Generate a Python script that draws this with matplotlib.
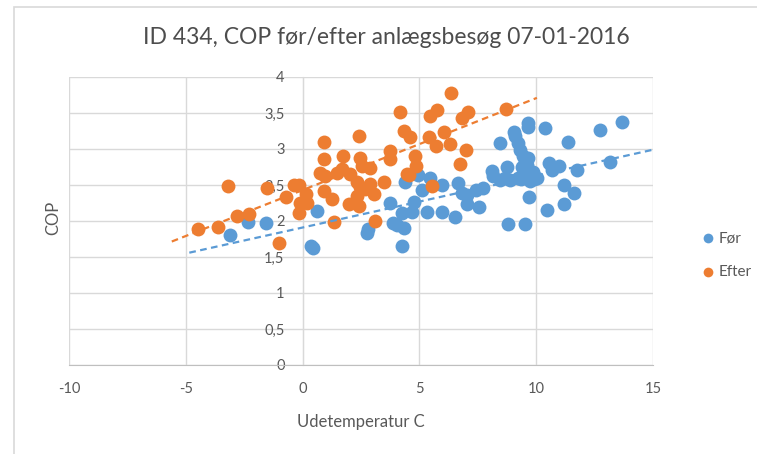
import numpy as np
import matplotlib
matplotlib.use("Agg")
import matplotlib.pyplot as plt
from matplotlib.patches import Rectangle
from matplotlib.ticker import FuncFormatter

plt.rcParams["font.family"] = ["Lato", "DejaVu Sans"]
plt.rcParams["axes.unicode_minus"] = False

TITLE = "ID 434, COP før/efter anlægsbesøg 07-01-2016"
X_LABEL = "Udetemperatur C"
Y_LABEL = "COP"

# Før (blue) - udetemperatur / COP
foer_x = [-3.10, -2.33, -1.58, 0.34, 0.45, 0.60, 2.76, 2.82, 3.75, 3.89, 4.03, 4.32,
          4.25, 4.25, 4.39, 4.68, 4.75, 4.96, 5.10, 5.46, 5.32, 5.96, 5.96, 6.53,
          6.67, 6.82, 7.03, 7.03, 7.43, 7.53, 7.74, 8.10, 8.17, 8.46, 8.46, 8.75,
          8.81, 8.89, 9.03, 9.10, 9.24, 9.31, 9.45, 9.50, 9.60, 9.70, 9.55, 9.80,
          9.90, 9.35, 10.05, 9.75, 9.53, 9.67, 9.67, 9.71, 10.39, 10.45, 10.53, 10.67,
          10.96, 11.17, 11.17, 11.34, 11.60, 11.74, 12.74, 13.14, 13.67,
          9.40, 9.65, 9.85, 9.60, 9.20, 8.65]
foer_y = [1.80, 1.99, 1.97, 1.65, 1.63, 2.14, 1.83, 1.89, 2.25, 1.97, 1.95, 1.90,
          1.65, 2.11, 2.54, 2.13, 2.27, 2.64, 2.43, 2.60, 2.13, 2.50, 2.13, 2.06,
          2.53, 2.39, 2.36, 2.23, 2.43, 2.20, 2.46, 2.69, 2.62, 2.57, 3.08, 2.75,
          1.96, 2.57, 3.24, 3.18, 3.08, 2.99, 2.90, 2.85, 2.78, 2.70, 2.62, 2.62,
          2.58, 2.58, 2.60, 2.55, 1.96, 3.36, 3.30, 2.33, 3.29, 2.15, 2.80, 2.71,
          2.77, 2.50, 2.23, 3.10, 2.39, 2.71, 3.26, 2.82, 3.37,
          2.75, 2.88, 2.68, 2.65, 2.60, 2.60]

# Efter (orange)
efter_x = [-4.49, -3.61, -3.21, -2.79, -2.29, -1.51, -1.01, -0.73, -0.37, -0.16, 0.13, -0.09,
           -0.16, 0.20, 0.91, 0.91, 0.74, 0.98, 0.91, 1.27, 1.34, 1.48, 1.74, 1.69,
           2.05, 2.40, 2.47, 2.55, 2.90, 2.33, 2.47, 2.33, 2.69, 2.90, 3.04, 1.98,
           2.40, 3.47, 3.11, 3.75, 3.75, 4.15, 4.32, 4.60, 4.47, 6.35, 5.46, 5.75,
           6.82, 7.10, 8.72, 5.39, 6.06, 5.72, 6.32, 7.00, 4.82, 4.86, 6.75, 4.57, 5.53]
efter_y = [1.89, 1.92, 2.48, 2.07, 2.10, 2.46, 1.70, 2.33, 2.50, 2.50, 2.37, 2.25,
           2.11, 2.25, 3.10, 2.86, 2.67, 2.63, 2.42, 2.31, 1.98, 2.67, 2.90, 2.72,
           2.65, 3.18, 2.88, 2.77, 2.74, 2.54, 2.47, 2.35, 2.45, 2.52, 2.38, 2.23,
           2.21, 2.54, 2.00, 2.97, 2.86, 3.51, 3.25, 3.16, 2.65, 3.78, 3.46, 3.54,
           3.43, 3.51, 3.55, 3.17, 3.24, 3.04, 3.07, 2.99, 2.90, 2.77, 2.79, 2.64, 2.49]

# linear trendlines as shown (end points)
foer_trend_x = [-4.85, 15.0]
foer_trend_y = [1.56, 2.99]
efter_trend_x = [-5.60, 10.03]
efter_trend_y = [1.715, 3.71]

BLUE = "#5B9BD5"
ORANGE = "#ED7D31"
GRID = "#D9D9D9"
TEXT = "#595959"

W, H = 757, 454
fig = plt.figure(figsize=(W / 100, H / 100), dpi=100)
ax = fig.add_axes([69 / W, (H - 365) / H, 584 / W, 288 / H])

ax.scatter(foer_x, foer_y, s=100, color=BLUE, linewidths=0, label="Før", zorder=3)
ax.scatter(efter_x, efter_y, s=100, color=ORANGE, linewidths=0, label="Efter", zorder=3)
ax.plot(foer_trend_x, foer_trend_y, color=BLUE, lw=1.6, ls=(0, (3, 2)), zorder=4)
ax.plot(efter_trend_x, efter_trend_y, color=ORANGE, lw=1.6, ls=(0, (3, 2)), zorder=4)

ax.set_xlim(-10, 15)
ax.set_ylim(0, 4)
ax.set_xticks(np.arange(-10, 16, 5))
ax.set_yticks(np.arange(0, 4.01, 0.5))
ax.yaxis.set_major_formatter(FuncFormatter(lambda v, p: f"{v:g}".replace(".", ",")))
ax.grid(True, color=GRID, lw=1)
ax.set_axisbelow(True)

ax.spines["left"].set_position(("data", 0))
ax.spines["left"].set_color(GRID)
for s in ("top", "right"):
    ax.spines[s].set_visible(False)
ax.spines["bottom"].set_color("#BFBFBF")
ax.tick_params(axis="both", length=0, labelsize=10.5, labelcolor=TEXT)
ax.tick_params(axis="y", pad=13)
ax.tick_params(axis="x", pad=12)

fig.text(386 / W, 1 - 38 / H, TITLE, ha="center", va="center", fontsize=16.5, color="#4D4D4D")
fig.text(361 / W, (H - 422) / H, X_LABEL, ha="center", va="center", fontsize=12, color=TEXT)
fig.text(53 / W, (H - 218) / H, Y_LABEL, ha="center", va="center", fontsize=12,
         color=TEXT, rotation=90)

leg = fig.legend(loc="center left", bbox_to_anchor=(688 / W, (H - 255) / H), frameon=False,
                 handlelength=0.8, handletextpad=0.3, labelspacing=1.3, fontsize=11,
                 markerscale=0.7)
for t in leg.get_texts():
    t.set_color(TEXT)

fig.add_artist(Rectangle((14 / W, -0.5), 2, 1.5 - 7 / H, transform=fig.transFigure,
                         fill=False, edgecolor=GRID, lw=1.2))

fig.savefig("out.png", dpi=100)
